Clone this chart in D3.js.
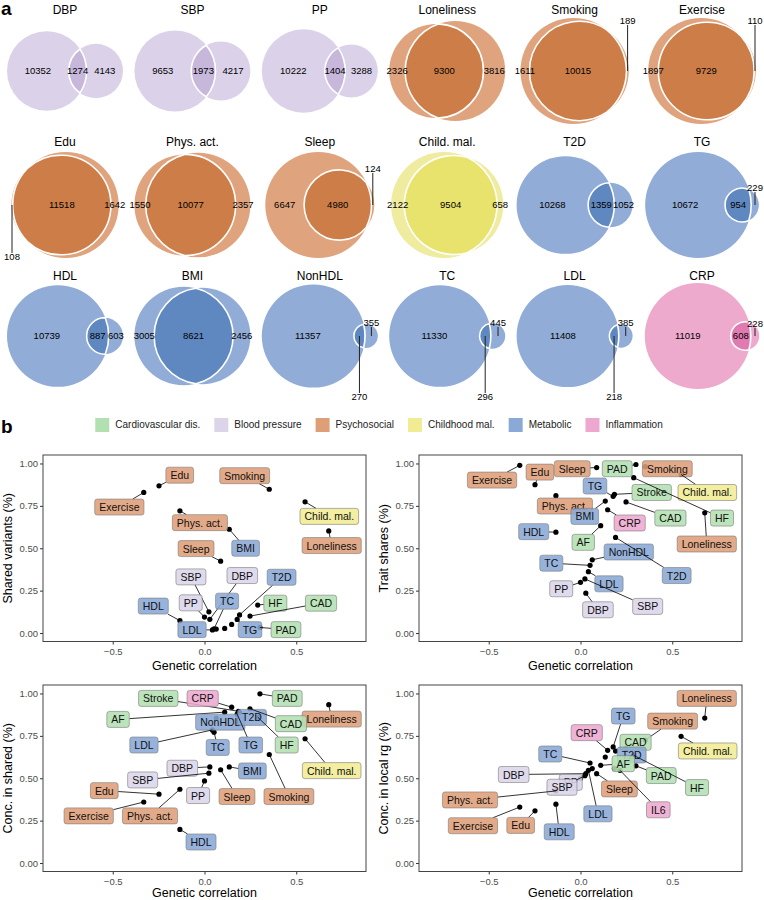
<!DOCTYPE html>
<html>
<head>
<meta charset="utf-8">
<script src="https://cdn.jsdelivr.net/npm/d3@7"></script>
<style>
  body { margin: 0; background: #fff; }
  svg { display: block; font-family: "Liberation Sans", Arial, sans-serif; }
</style>
</head>
<body>
<svg id="chart" width="764" height="900"></svg>
<script>
// ---------- panel a : variant counts (depression only / shared / trait only)
const vennTraits = ["DBP", "SBP", "PP", "Loneliness", "Smoking", "Exercise",
  "Edu", "Phys. act.", "Sleep", "Child. mal.", "T2D", "TG",
  "HDL", "BMI", "NonHDL", "TC", "LDL", "CRP"];
const vennOnlyDep = [10352, 9653, 10222, 2326, 1611, 1897, 108, 1550, 6647, 2122, 10268, 10672, 10739, 3005, 11357, 11330, 11408, 11019];
const vennShared = [1274, 1973, 1404, 9300, 10015, 9729, 11518, 10077, 4980, 9504, 1359, 954, 887, 8621, 270, 296, 218, 608];
const vennOnlyTrait = [4143, 4217, 3288, 3816, 189, 110, 1642, 2357, 124, 658, 1052, 229, 603, 2456, 355, 445, 385, 228];

// ---------- trait groups
const groupKeys = ["cvd", "bp", "psy", "child", "met", "inf"];
const groupNames = ["Cardiovascular dis.", "Blood pressure", "Psychosocial", "Childhood mal.", "Metabolic", "Inflammation"];
const traitGroup = {
  DBP: "bp", SBP: "bp", PP: "bp",
  Loneliness: "psy", Smoking: "psy", Exercise: "psy", Edu: "psy", "Phys. act.": "psy", Sleep: "psy",
  "Child. mal.": "child",
  T2D: "met", TG: "met", HDL: "met", BMI: "met", NonHDL: "met", TC: "met", LDL: "met",
  CRP: "inf", IL6: "inf",
  CAD: "cvd", HF: "cvd", PAD: "cvd", AF: "cvd", Stroke: "cvd"
};

// ---------- panel b : genetic correlation per trait
const rgTraits = ["Exercise", "Edu", "Phys. act.", "HDL", "PP", "SBP", "DBP", "LDL", "TC", "NonHDL", "Sleep", "AF",
  "BMI", "CRP", "TG", "Stroke", "T2D", "IL6", "CAD", "HF", "PAD", "Smoking", "Child. mal.", "Loneliness"];
const rgValues = [-0.331, -0.248, -0.134, -0.134, 0.0, 0.024, 0.029, 0.043, 0.052, 0.064, 0.088, 0.11,
  0.135, 0.148, 0.178, 0.185, 0.191, 0.215, 0.248, 0.29, 0.302, 0.353, 0.548, 0.677];

// Shared variants (%)
const sharedTraits = ["Exercise", "Edu", "Smoking", "Phys. act.", "Child. mal.", "BMI", "Loneliness", "Sleep", "SBP", "DBP",
  "T2D", "PP", "TC", "HDL", "HF", "CAD", "LDL", "TG", "PAD", "NonHDL", "CRP", "AF"];
const sharedValues = [0.829, 0.868, 0.848, 0.721, 0.774, 0.612, 0.602, 0.424, 0.125, 0.081,
  0.107, 0.094, 0.025, 0.073, 0.165, 0.10, 0.018, 0.080, 0.033, 0.023, 0.051, 0.027];
const sharedLabelAt = [[-0.464, 0.743], [-0.135, 0.931], [0.219, 0.928], [-0.025, 0.651], [0.68, 0.688], [0.224, 0.50],
  [0.693, 0.516], [-0.046, 0.498], [-0.074, 0.331], [0.206, 0.339], [0.42, 0.329], [-0.075, 0.178], [0.123, 0.188],
  [-0.279, 0.159], [0.386, 0.176], [0.635, 0.176], [-0.068, 0.02], [0.248, 0.02], [0.444, 0.02], null, null, null];

// Trait shares (%)
const shareTraits = ["Exercise", "Edu", "Sleep", "PAD", "Smoking", "TG", "Stroke", "Child. mal.", "Phys. act.", "BMI",
  "CRP", "CAD", "HF", "HDL", "AF", "Loneliness", "NonHDL", "TC", "T2D", "LDL", "PP", "SBP", "DBP"];
const shareValues = [0.989, 0.875, 0.976, 0.994, 0.981, 0.806, 0.818, 0.935, 0.810, 0.778,
  0.727, 0.773, 0.916, 0.595, 0.633, 0.709, 0.432, 0.399, 0.564, 0.362, 0.299, 0.319, 0.235];
const shareLabelAt = [[-0.482, 0.902], [-0.221, 0.949], [-0.045, 0.969], [0.20, 0.969], [0.473, 0.969], [0.079, 0.867],
  [0.388, 0.829], [0.691, 0.829], [-0.085, 0.749], [0.023, 0.688], [0.268, 0.649], [0.49, 0.678], [0.771, 0.678],
  [-0.255, 0.598], [0.015, 0.535], [0.688, 0.525], [0.263, 0.478], [-0.159, 0.412], [0.524, 0.339], [0.155, 0.29],
  [-0.105, 0.261], [0.366, 0.157], [0.095, 0.137]];

// Conc. in shared (%)
const concSharedTraits = ["Stroke", "CRP", "PAD", "AF", "NonHDL", "T2D", "Loneliness", "CAD", "LDL", "TC", "TG", "HF",
  "Child. mal.", "DBP", "BMI", "SBP", "Edu", "PP", "Sleep", "Smoking", "Exercise", "Phys. act.", "HDL"];
const concSharedValues = [0.895, 0.919, 0.998, 0.89, 0.855, 0.888, 0.934, 0.91, 0.785, 0.772, 0.878, 0.86,
  0.733, 0.567, 0.567, 0.53, 0.406, 0.484, 0.55, 0.64, 0.36, 0.435, 0.198];
const concSharedLabelAt = [[-0.252, 0.971], [-0.01, 0.971], [0.451, 0.971], [-0.471, 0.847], [0.086, 0.831], [0.259, 0.859],
  [0.693, 0.849], [0.471, 0.822], [-0.33, 0.696], [0.072, 0.682], [0.252, 0.696], [0.448, 0.696], [0.693, 0.545],
  [-0.121, 0.559], [0.261, 0.543], [-0.337, 0.49], [-0.546, 0.427], [-0.035, 0.398], [0.177, 0.392], [0.46, 0.392],
  [-0.631, 0.278], [-0.297, 0.278], [-0.019, 0.124]];

// Conc. in local rg (%)
const concLocalTraits = ["Loneliness", "TG", "Smoking", "CRP", "CAD", "Child. mal.", "T2D", "TC", "AF", "DBP", "PAD", "HF",
  "PP", "SBP", "Sleep", "Phys. act.", "IL6", "LDL", "Exercise", "Edu", "HDL", "BMI", "NonHDL", "Stroke"];
const concLocalValues = [0.855, 0.685, 0.725, 0.665, 0.676, 0.747, 0.66, 0.59, 0.576, 0.527, 0.573, 0.635,
  0.50, 0.515, 0.527, 0.425, 0.547, 0.547, 0.33, 0.308, 0.347, 0.625, 0.557, 0.557];
const concLocalLabelAt = [[0.688, 0.971], [0.233, 0.867], [0.502, 0.837], [0.034, 0.769], [0.30, 0.712], [0.693, 0.661],
  [0.279, 0.637], [-0.165, 0.643], [0.233, 0.586], [-0.364, 0.522], [0.44, 0.516], [0.635, 0.445], [-0.053, 0.476],
  [-0.101, 0.447], [0.212, 0.437], [-0.602, 0.372], [0.424, 0.314], [0.095, 0.29], [-0.586, 0.22], [-0.326, 0.222],
  [-0.116, 0.184], null, null, null];

const yTicks = [0, 0.25, 0.5, 0.75, 1];
const xTicks = [-0.5, 0, 0.5];

// ---------- styles
const labelFill = { cvd: "#b3e0b1", bp: "#dcd5ea", psy: "#de9e78", child: "#f1ec93", met: "#8aa9d6", inf: "#eea8cf" };
const vennLight = { bp: "#dbd2e9", psy: "#dfa37d", child: "#efeb9f", met: "#91acd6", inf: "#eeaacd" };
const vennDark = { bp: "#c6b7db", psy: "#cd7d48", child: "#e8e36d", met: "#6088c0", inf: "#e07bb1" };

// small venn regions: number placed away from the circle with a leader line
const leaderLabels = [
  { trait: "Smoking", region: "b", dy: -50 },
  { trait: "Exercise", region: "b", dy: -50 },
  { trait: "Edu", region: "a", dy: 52 },
  { trait: "Sleep", region: "b", dy: -36 },
  { trait: "TG", region: "b", dy: -17 },
  { trait: "NonHDL", region: "b", dy: -13 },
  { trait: "NonHDL", region: "ab", dy: 61 },
  { trait: "TC", region: "b", dy: -13 },
  { trait: "TC", region: "ab", dy: 61 },
  { trait: "LDL", region: "b", dy: -13 },
  { trait: "LDL", region: "ab", dy: 61 },
  { trait: "CRP", region: "b", dy: -12 }
];

const svg = d3.select("#chart");

// ================= panel a =================
svg.append("text").attr("x", 1).attr("y", 15)
  .style("font-size", "19px").style("font-weight", "bold").text("a");

const colCenter = d3.scaleLinear().domain([0, 5]).range([65, 702]);
const rowTitleY = [11, 143, 277];
const rowCircleY = [71, 205, 336];
const boxW = 116, boxH = 106;

function lensArea(r1, r2, d) {
  if (d >= r1 + r2) return 0;
  if (d <= Math.abs(r1 - r2)) return Math.PI * Math.min(r1, r2) ** 2;
  const a = r1 * r1 * Math.acos((d * d + r1 * r1 - r2 * r2) / (2 * d * r1));
  const b = r2 * r2 * Math.acos((d * d + r2 * r2 - r1 * r1) / (2 * d * r2));
  const c = 0.5 * Math.sqrt((-d + r1 + r2) * (d + r1 - r2) * (d - r1 + r2) * (d + r1 + r2));
  return a + b - c;
}

function solveDistance(r1, r2, area) {
  let lo = Math.abs(r1 - r2), hi = r1 + r2;
  for (let i = 0; i < 60; i++) {
    const mid = (lo + hi) / 2;
    if (lensArea(r1, r2, mid) > area) lo = mid; else hi = mid;
  }
  return (lo + hi) / 2;
}

vennTraits.forEach((name, i) => {
  const col = i % 6, row = Math.floor(i / 6);
  const cx = colCenter(col), cy = rowCircleY[row];
  const grp = traitGroup[name];
  const a = vennOnlyDep[i], ab = vennShared[i], b = vennOnlyTrait[i];

  const rA = Math.sqrt((a + ab) / Math.PI);
  const rB = Math.sqrt((b + ab) / Math.PI);
  const d = solveDistance(rA, rB, ab);

  const xmin = -rA, xmax = d + rB, ymax = Math.max(rA, rB);
  const s = Math.min(boxW / (xmax - xmin), boxH / (2 * ymax));
  const x = d3.scaleLinear().domain([xmin, xmax])
    .range([cx - s * (xmax - xmin) / 2, cx + s * (xmax - xmin) / 2]);

  const g = svg.append("g");
  g.append("text").attr("x", cx).attr("y", rowTitleY[row])
    .attr("text-anchor", "middle").attr("dominant-baseline", "middle")
    .style("font-size", "12px").text(name);

  g.append("circle").attr("cx", x(0)).attr("cy", cy).attr("r", rA * s).attr("fill", vennLight[grp]);
  g.append("circle").attr("cx", x(d)).attr("cy", cy).attr("r", rB * s).attr("fill", vennLight[grp]);

  // lens (shared region)
  const x0 = (d * d + rA * rA - rB * rB) / (2 * d);
  const h = Math.sqrt(Math.max(0, rA * rA - x0 * x0));
  const pR = rA * s, qR = rB * s;
  const lens = `M${x(x0)},${cy - h * s}` +
    `A${pR},${pR} 0 ${x0 < 0 ? 1 : 0} 1 ${x(x0)},${cy + h * s}` +
    `A${qR},${qR} 0 ${x0 > d ? 1 : 0} 1 ${x(x0)},${cy - h * s}Z`;
  g.append("path").attr("d", lens).attr("fill", vennDark[grp])
    .attr("stroke", "#fff").attr("stroke-width", 1.6);

  const regions = [
    { key: "a", v: a, mid: (xmin + (d - rB)) / 2 },
    { key: "ab", v: ab, mid: ((d - rB) + rA) / 2 },
    { key: "b", v: b, mid: (rA + xmax) / 2 }
  ];
  regions.forEach(r => {
    const lead = leaderLabels.find(l => l.trait === name && l.region === r.key);
    const px = x(r.mid);
    if (lead) {
      const ly = cy + lead.dy;
      g.append("line").attr("x1", px).attr("x2", px)
        .attr("y1", lead.dy < 0 ? ly + 4 : ly - 4).attr("y2", cy)
        .attr("stroke", "#222").attr("stroke-width", 1);
      g.append("text").attr("x", px).attr("y", ly)
        .attr("text-anchor", "middle").attr("dominant-baseline", "middle")
        .style("font-size", "9.5px").text(r.v);
    } else {
      g.append("text").attr("x", px).attr("y", cy)
        .attr("text-anchor", "middle").attr("dominant-baseline", "middle")
        .style("font-size", "9.5px").text(r.v);
    }
  });
});

// ================= panel b =================
svg.append("text").attr("x", 1).attr("y", 433)
  .style("font-size", "19px").style("font-weight", "bold").text("b");

// legend
const legend = svg.append("g");
let lx = 0;
groupKeys.forEach((k, i) => {
  const it = legend.append("g");
  it.append("rect").attr("width", 14).attr("height", 14).attr("y", -7).attr("fill", labelFill[k]);
  const t = it.append("text").attr("x", 20).attr("dominant-baseline", "middle")
    .style("font-size", "10px").attr("fill", "#222").text(groupNames[i]);
  const w = 20 + t.node().getComputedTextLength();
  it.attr("transform", `translate(${lx},0)`);
  lx += w + 14;
});
const legendW = lx - 14;
legend.attr("transform", `translate(${379 - legendW / 2},425)`);

const rgOf = {};
rgTraits.forEach((t, i) => rgOf[t] = rgValues[i]);

const panels = [
  { left: 43, top: 455, title: "Shared variants (%)", traits: sharedTraits, values: sharedValues, labels: sharedLabelAt, ytx: 9, xt: 28 },
  { left: 419, top: 455, title: "Trait shares (%)", traits: shareTraits, values: shareValues, labels: shareLabelAt, ytx: 385, xt: 28 },
  { left: 43, top: 685, title: "Conc. in shared (%)", traits: concSharedTraits, values: concSharedValues, labels: concSharedLabelAt, ytx: 9, xt: 25 },
  { left: 419, top: 685, title: "Conc. in local rg (%)", traits: concLocalTraits, values: concLocalValues, labels: concLocalLabelAt, ytx: 385, xt: 25 }
];
const pw = 323, ph = 186.5;

panels.forEach(p => {
  const x = d3.scaleLinear().domain([-0.88, 0.88]).range([p.left, p.left + pw]);
  const y = d3.scaleLinear().domain([-0.05, 1.05]).range([p.top + ph, p.top]);
  const g = svg.append("g");

  const xAxis = g.append("g").attr("transform", `translate(0,${p.top + ph})`)
    .call(d3.axisBottom(x).tickValues(xTicks).tickFormat(d3.format(".1f")).tickSize(3).tickPadding(2));
  const yAxis = g.append("g").attr("transform", `translate(${p.left},0)`)
    .call(d3.axisLeft(y).tickValues(yTicks).tickFormat(d3.format(".2f")).tickSize(3).tickPadding(2));
  [xAxis, yAxis].forEach(ax => {
    ax.select(".domain").remove();
    ax.selectAll("line").attr("stroke", "#333");
    ax.selectAll("text").attr("fill", "#4d4d4d").style("font-size", "9.5px")
      .style("font-family", "'Liberation Sans', Arial, sans-serif");
  });
  xAxis.selectAll("text").attr("dy", "0.85em");

  g.append("rect").attr("x", p.left).attr("y", p.top).attr("width", pw).attr("height", ph)
    .attr("fill", "none").attr("stroke", "#444").attr("stroke-width", 1);

  g.append("text").attr("x", p.left + pw / 2).attr("y", p.top + ph + p.xt)
    .attr("text-anchor", "middle").style("font-size", "12.5px").text("Genetic correlation");
  g.append("text").attr("transform", `translate(${p.ytx},${p.top + ph / 2}) rotate(-90)`)
    .attr("text-anchor", "middle").attr("dominant-baseline", "middle")
    .style("font-size", "12.5px").text(p.title);

  const rows = p.traits.map((t, i) => ({ t, px: x(rgOf[t]), py: y(p.values[i]), lab: p.labels[i] }));

  // points
  g.selectAll("circle.pt").data(rows).enter().append("circle")
    .attr("cx", d => d.px).attr("cy", d => d.py).attr("r", 2.6).attr("fill", "#000");

  // labels with segments
  const labG = g.append("g");
  rows.filter(d => d.lab).forEach(d => {
    const lcx = x(d.lab[0]), lcy = y(d.lab[1]);
    const lg = labG.append("g");
    const rect = lg.append("rect");
    const txt = lg.append("text").attr("x", lcx).attr("y", lcy)
      .attr("text-anchor", "middle").attr("dominant-baseline", "central")
      .style("font-size", "10.5px").attr("fill", "#111").text(d.t);
    const w = txt.node().getComputedTextLength() + 9, h = 16;
    rect.attr("x", lcx - w / 2).attr("y", lcy - h / 2).attr("width", w).attr("height", h)
      .attr("rx", 2.5).attr("fill", labelFill[traitGroup[d.t]]).attr("fill-opacity", 0.88)
      .attr("stroke", "#7a7a7a").attr("stroke-width", 0.6);

    const vx = d.px - lcx, vy = d.py - lcy;
    const sc = Math.min(vx === 0 ? Infinity : (w / 2) / Math.abs(vx), vy === 0 ? Infinity : (h / 2) / Math.abs(vy));
    if (sc < 1) {
      const ex = lcx + vx * sc, ey = lcy + vy * sc;
      if (Math.hypot(d.px - ex, d.py - ey) > 3) {
        lg.insert("line", "rect").attr("x1", d.px).attr("y1", d.py).attr("x2", ex).attr("y2", ey)
          .attr("stroke", "#000").attr("stroke-width", 0.8);
      }
    }
  });
});
</script>
</body>
</html>
